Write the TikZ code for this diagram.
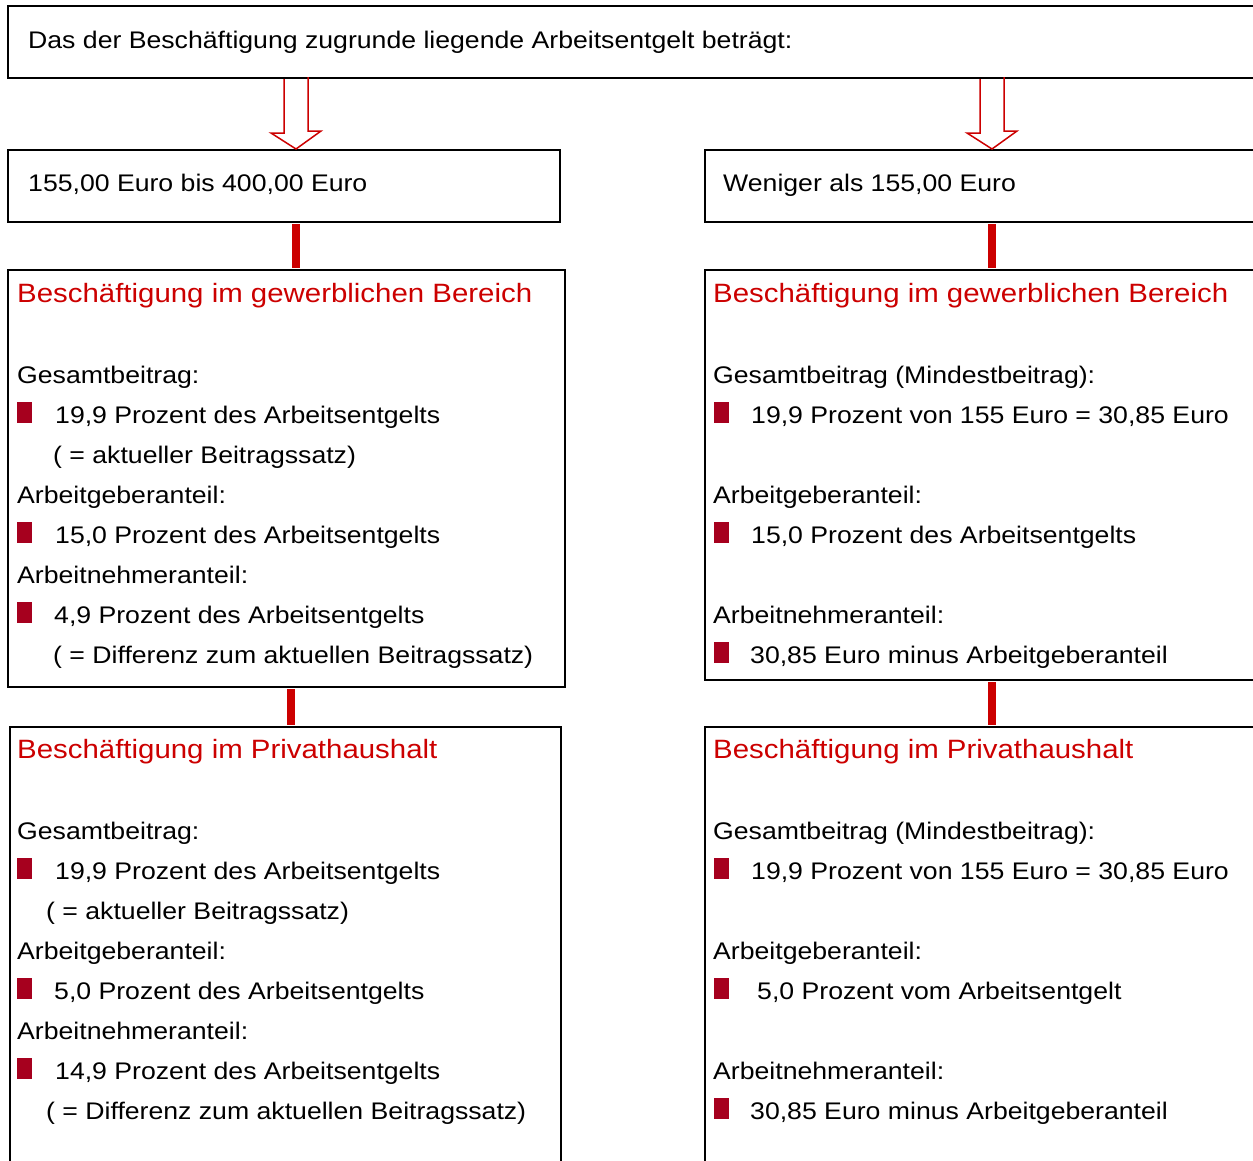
\documentclass[tikz,border=0pt]{standalone}
\usepackage{fontspec}
\setmainfont{Liberation Sans}[FakeStretch=1.11]
\definecolor{hdr}{RGB}{204,0,0}
\definecolor{bul}{RGB}{166,0,30}
\begin{document}
\begin{tikzpicture}[x=1pt,y=-1pt,
  box/.style={draw=black, line width=2pt, inner sep=0pt, anchor=north west},
  txt/.style={anchor=base west, inner sep=0pt, font=\fontsize{24}{28}\selectfont},
  hd/.style={anchor=base west, inner sep=0pt, text=hdr, font=\fontsize{26.5}{30}\selectfont},
  bullet/.style={fill=bul, minimum width=15pt, minimum height=21pt, inner sep=0pt, anchor=south west},
  conn/.style={draw=hdr, line width=8pt, shorten <=1pt, shorten >=1pt},
  blockarrow/.style={draw=hdr, line width=1.5pt, line join=miter}]
\useasboundingbox (0,0) rectangle (1253,1160);
\clip (0,0) rectangle (1253,1160);
\fill[white] (0,0) rectangle (1253,1160);
% boxes
\node[box, minimum width=1260pt, minimum height=72pt] (top) at (7,5) {};
\node[box, minimum width=552pt, minimum height=72pt] (b1) at (7,149) {};
\node[box, minimum width=560pt, minimum height=72pt] (b2) at (704,149) {};
\node[box, minimum width=557pt, minimum height=417pt] (m1) at (7,269) {};
\node[box, minimum width=560pt, minimum height=410pt] (m2) at (704,269) {};
\node[box, minimum width=551pt, minimum height=460pt] (l1) at (8.5,726) {};
\node[box, minimum width=560pt, minimum height=460pt] (l2) at (704,726) {};
% reference columns
\coordinate (cL1) at (296,0);
\coordinate (cL2) at (291,0);
\coordinate (cR) at (992,0);
% block arrows
\draw[blockarrow] (top.south -| cL1) ++(-12,0) -- ++(0,54) -- ++(-13,0) -- (b1.north -| cL1) -- ++(25,-18) -- ++(-13,0) -- ++(0,-54);
\draw[blockarrow] (top.south -| cR) ++(-12,0) -- ++(0,54) -- ++(-13,0) -- (b2.north -| cR) -- ++(25,-18) -- ++(-13,0) -- ++(0,-54);
% connectors
\draw[conn] (b1.south -| cL1) -- (m1.north -| cL1);
\draw[conn] (m1.south -| cL2) -- (l1.north -| cL2);
\draw[conn] (b2.south -| cR) -- (m2.north -| cR);
\draw[conn] (m2.south -| cR) -- (l2.north -| cR);
% top texts
\node[txt] (t0) at (28,48) {Das der Beschäftigung zugrunde liegende Arbeitsentgelt beträgt:};
\node[txt] (t1) at (28,191) {155,00 Euro bis 400,00 Euro};
\node[txt] (t2) at (723,191) {Weniger als 155,00 Euro};
% left middle
\node[hd] (m1h) at (17,302) {Beschäftigung im gewerblichen Bereich};
\node[txt] (m1a) at (17,383) {Gesamtbeitrag:};
\node[bullet] (m1b1) at (17,423) {};
\node[txt] (m1c) at (55,423) {19,9 Prozent des Arbeitsentgelts};
\node[txt] (m1d) at (53,463) {( = aktueller Beitragssatz)};
\node[txt] (m1e) at (17,503) {Arbeitgeberanteil:};
\node[bullet] (m1b2) at (17,543) {};
\node[txt] (m1f) at (55,543) {15,0 Prozent des Arbeitsentgelts};
\node[txt] (m1g) at (17,583) {Arbeitnehmeranteil:};
\node[bullet] (m1b3) at (17,623) {};
\node[txt] (m1h2) at (54,623) {4,9 Prozent des Arbeitsentgelts};
\node[txt] (m1i) at (53,663) {( = Differenz zum aktuellen Beitragssatz)};
% right middle
\node[hd] (m2h) at (713,302) {Beschäftigung im gewerblichen Bereich};
\node[txt] (m2a) at (713,383) {Gesamtbeitrag (Mindestbeitrag):};
\node[bullet] (m2b1) at (714,423) {};
\node[txt] (m2c) at (751,423) {19,9 Prozent von 155 Euro = 30,85 Euro};
\node[txt] (m2e) at (713,503) {Arbeitgeberanteil:};
\node[bullet] (m2b2) at (714,543) {};
\node[txt] (m2f) at (751,543) {15,0 Prozent des Arbeitsentgelts};
\node[txt] (m2g) at (713,623) {Arbeitnehmeranteil:};
\node[bullet] (m2b3) at (714,663) {};
\node[txt] (m2i) at (750,663) {30,85 Euro minus Arbeitgeberanteil};
% left bottom
\node[hd] (l1h) at (17,758) {Beschäftigung im Privathaushalt};
\node[txt] (l1a) at (17,839) {Gesamtbeitrag:};
\node[bullet] (l1b1) at (17,879) {};
\node[txt] (l1c) at (55,879) {19,9 Prozent des Arbeitsentgelts};
\node[txt] (l1d) at (46,919) {( = aktueller Beitragssatz)};
\node[txt] (l1e) at (17,959) {Arbeitgeberanteil:};
\node[bullet] (l1b2) at (17,999) {};
\node[txt] (l1f) at (54,999) {5,0 Prozent des Arbeitsentgelts};
\node[txt] (l1g) at (17,1039) {Arbeitnehmeranteil:};
\node[bullet] (l1b3) at (17,1079) {};
\node[txt] (l1h2) at (55,1079) {14,9 Prozent des Arbeitsentgelts};
\node[txt] (l1i) at (46,1119) {( = Differenz zum aktuellen Beitragssatz)};
% right bottom
\node[hd] (l2h) at (713,758) {Beschäftigung im Privathaushalt};
\node[txt] (l2a) at (713,839) {Gesamtbeitrag (Mindestbeitrag):};
\node[bullet] (l2b1) at (714,879) {};
\node[txt] (l2c) at (751,879) {19,9 Prozent von 155 Euro = 30,85 Euro};
\node[txt] (l2e) at (713,959) {Arbeitgeberanteil:};
\node[bullet] (l2b2) at (714,999) {};
\node[txt] (l2f) at (757,999) {5,0 Prozent vom Arbeitsentgelt};
\node[txt] (l2g) at (713,1079) {Arbeitnehmeranteil:};
\node[bullet] (l2b3) at (714,1119) {};
\node[txt] (l2i) at (750,1119) {30,85 Euro minus Arbeitgeberanteil};
\end{tikzpicture}
\end{document}
